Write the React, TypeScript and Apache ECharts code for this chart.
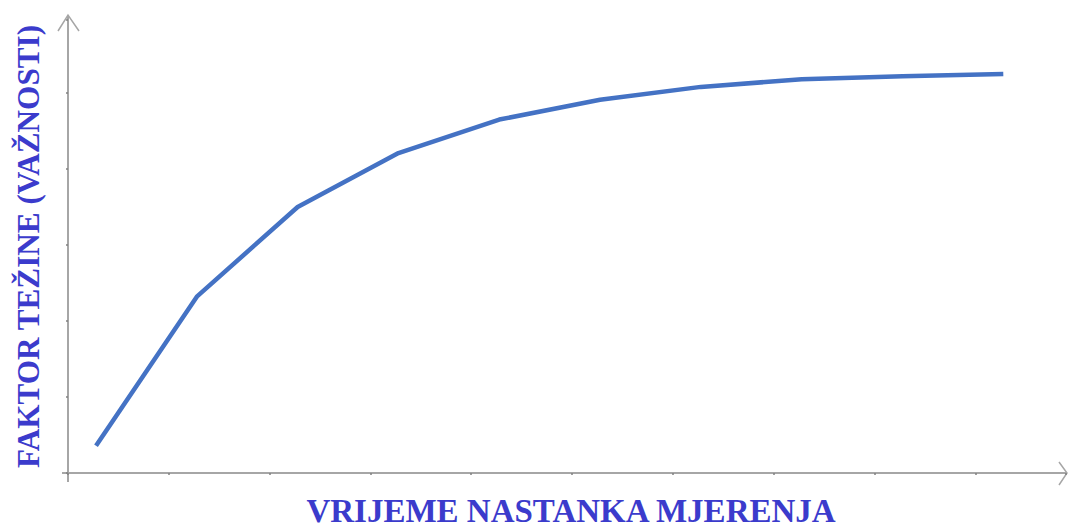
import React, { useEffect, useRef } from "react";
import * as echarts from "echarts";

// Measurement index (time of measurement) and weight factor
const measurementIndex = [1, 2, 3, 4, 5, 6, 7, 8, 9, 10];
const weightFactor = [0.36, 2.32, 3.5, 4.21, 4.65, 4.91, 5.08, 5.18, 5.22, 5.25];

const xTitle = "VRIJEME NASTANKA MJERENJA";
const yTitle = "FAKTOR TEŽINE (VAŽNOSTI)";

export default function App() {
  const ref = useRef<HTMLDivElement>(null);

  useEffect(() => {
    document.body.style.margin = "0";
    if (!ref.current) return;
    const chart = echarts.init(ref.current, undefined, { renderer: "svg" });
    const axisGray = "#a6a6a6";
    const titleColor = "#3b3bcc";
    const option = {
      animation: false,
      backgroundColor: "#ffffff",
      grid: {
        left: 68,
        top: 20,
        right: 4,
        bottom: 54,
        containLabel: false,
        outerBoundsMode: "none",
      },
      xAxis: [
        {
          type: "value",
          min: 0,
          max: 9.9,
          interval: 1,
          axisLine: { show: true, lineStyle: { color: axisGray, width: 2 } },
          axisTick: { show: true, length: 2, lineStyle: { color: "#808080", width: 1.5 } },
          axisLabel: { show: false },
          splitLine: { show: false },
          name: xTitle,
          nameLocation: "middle",
          nameGap: 21,
          nameTextStyle: {
            fontFamily: "Liberation Serif",
            fontWeight: "bold",
            fontSize: 33,
            color: titleColor,
            padding: [0, 0, 0, 8],
          },
        },
        {
          type: "value",
          min: 0.722,
          max: 10.622,
          show: false,
          position: "bottom",
        },
      ],
      yAxis: {
        type: "value",
        min: 0,
        max: 5.96,
        interval: 1,
        axisLine: { show: true, lineStyle: { color: axisGray, width: 2 } },
        axisTick: { show: true, length: 2, lineStyle: { color: "#808080", width: 1.5 } },
        axisLabel: { show: false },
        splitLine: { show: false },
        name: yTitle,
        nameLocation: "middle",
        nameGap: 24,
        nameTextStyle: {
          fontFamily: "Liberation Serif",
          fontWeight: "bold",
          fontSize: 31.2,
          color: titleColor,
        },
      },
      series: [
        {
          type: "line",
          xAxisIndex: 1,
          data: measurementIndex.map((x, i) => [x, weightFactor[i]]),
          showSymbol: false,
          symbol: "none",
          lineStyle: { color: "#4472c4", width: 4.5 },
        },
      ],
      graphic: [
        // axis overhangs and open arrow heads
        { type: "line", shape: { x1: 68, y1: 473, x2: 68, y2: 482 }, style: { stroke: axisGray, lineWidth: 2 } },
        { type: "line", shape: { x1: 62, y1: 473, x2: 68, y2: 473 }, style: { stroke: axisGray, lineWidth: 2 } },
        { type: "line", shape: { x1: 68, y1: 20, x2: 68, y2: 15 }, style: { stroke: axisGray, lineWidth: 2 } },
        {
          type: "polyline",
          shape: { points: [[58, 31], [68, 15], [79, 31]] },
          style: { stroke: axisGray, lineWidth: 1.5, fill: "none" },
        },
        {
          type: "polyline",
          shape: { points: [[1059, 462], [1067, 473], [1059, 485]] },
          style: { stroke: axisGray, lineWidth: 1.5, fill: "none" },
        },
      ],
    };
    chart.setOption(option as any);
    return () => chart.dispose();
  }, []);

  return <div ref={ref} style={{ width: 1070, height: 527 }} />;
}
